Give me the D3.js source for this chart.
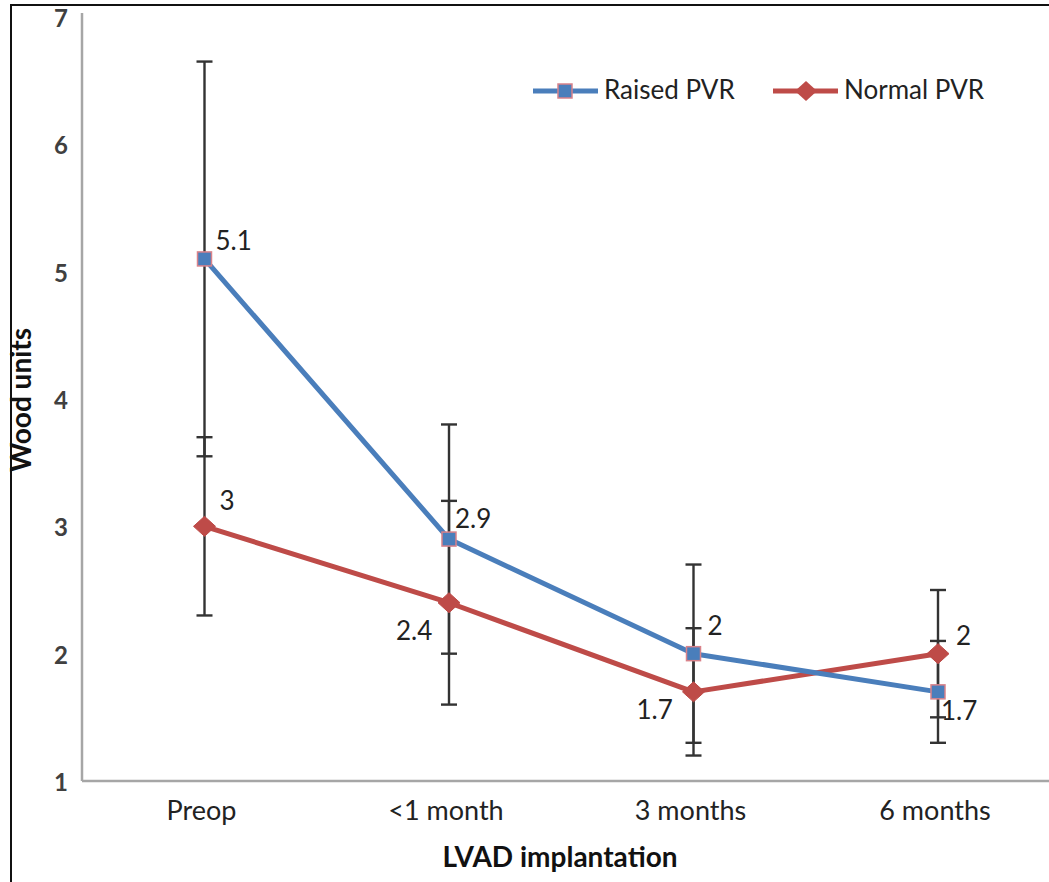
<!DOCTYPE html>
<html>
<head>
<meta charset="utf-8">
<script src="https://cdn.jsdelivr.net/npm/d3@7/dist/d3.min.js"></script>
<style>
  html, body { margin: 0; padding: 0; background: #fff; }
  svg { display: block; }
  text { font-family: Lato, "Open Sans", "Liberation Sans", sans-serif; }
</style>
</head>
<body>
<svg id="chart" width="1049" height="882"></svg>
<script>
// Time points after LVAD implantation
const categories = ["Preop", "<1 month", "3 months", "6 months"];
// Mean PVR (Wood units) per group
const raisedValues = [5.1, 2.9, 2.0, 1.7];
const normalValues = [3.0, 2.4, 1.7, 2.0];
// Error bar half-widths
const raisedErrors = [1.55, 0.9, 0.7, 0.4];
const normalErrors = [0.7, 0.8, 0.5, 0.5];
const yTicks = [1, 2, 3, 4, 5, 6, 7];

const svg = d3.select("#chart");
const W = 1049, H = 882;

const x = d3.scalePoint().domain(categories).range([204.5, 938]);
const y = d3.scaleLinear().domain([1, 7]).range([781, 17]);

// frame around the figure (top and left edges)
svg.append("path")
  .attr("d", `M11,${H} L11,5 L${W},5`)
  .attr("fill", "none").attr("stroke", "#111").attr("stroke-width", 2);

// axes
const axisColor = "#a6a6a6";
svg.append("line").attr("x1", 82).attr("x2", 82).attr("y1", y(7) - 4).attr("y2", y(1))
  .attr("stroke", axisColor).attr("stroke-width", 2.5);
svg.append("line").attr("x1", 82).attr("x2", 1060).attr("y1", y(1)).attr("y2", y(1))
  .attr("stroke", axisColor).attr("stroke-width", 2.5);

// y tick labels
svg.append("g").selectAll("text").data(yTicks).join("text")
  .attr("x", 68).attr("y", d => y(d) + 4)
  .attr("text-anchor", "end").attr("dominant-baseline", "middle")
  .attr("font-size", 24).attr("font-weight", 700).attr("fill", "#404040")
  .text(d => d);

// x tick labels
svg.append("g").selectAll("text").data(categories).join("text")
  .attr("x", d => x(d) - 3).attr("y", 813)
  .attr("text-anchor", "middle").attr("dominant-baseline", "middle")
  .attr("font-size", 27).attr("fill", "#222")
  .text(d => d);

// axis titles
svg.append("text")
  .attr("transform", `translate(24,400) rotate(-90)`)
  .attr("text-anchor", "middle").attr("dominant-baseline", "middle")
  .attr("font-size", 28).attr("font-weight", 700).attr("fill", "#111")
  .text("Wood units");
svg.append("text")
  .attr("x", 560).attr("y", 860)
  .attr("text-anchor", "middle").attr("dominant-baseline", "middle")
  .attr("font-size", 28).attr("font-weight", 700).attr("fill", "#111")
  .text("LVAD implantation");

const blue = "#4a7ebb", red = "#be4b48";

// error bars
function errorBars(values, errors) {
  const g = svg.append("g").attr("stroke", "#333").attr("stroke-width", 2.4);
  categories.forEach((c, i) => {
    const cx = x(c), lo = y(values[i] - errors[i]), hi = y(values[i] + errors[i]);
    g.append("line").attr("x1", cx).attr("x2", cx).attr("y1", hi).attr("y2", lo);
    g.append("line").attr("x1", cx - 8).attr("x2", cx + 8).attr("y1", hi).attr("y2", hi);
    g.append("line").attr("x1", cx - 8).attr("x2", cx + 8).attr("y1", lo).attr("y2", lo);
  });
}
errorBars(raisedValues, raisedErrors);
errorBars(normalValues, normalErrors);

const line = d3.line().x((d, i) => x(categories[i])).y(d => y(d));

// Normal PVR series
svg.append("path").datum(normalValues).attr("d", line)
  .attr("fill", "none").attr("stroke", red).attr("stroke-width", 5).attr("stroke-linejoin", "round");
svg.append("g").selectAll("path").data(normalValues).join("path")
  .attr("transform", (d, i) => `translate(${x(categories[i])},${y(d)})`)
  .attr("d", "M0,-10 L11,0 L0,10 L-11,0 Z")
  .attr("fill", red).attr("stroke", red).attr("stroke-width", 1);

// Raised PVR series
svg.append("path").datum(raisedValues).attr("d", line)
  .attr("fill", "none").attr("stroke", blue).attr("stroke-width", 5).attr("stroke-linejoin", "round");
svg.append("g").selectAll("rect").data(raisedValues).join("rect")
  .attr("x", (d, i) => x(categories[i]) - 7).attr("y", d => y(d) - 7)
  .attr("width", 14).attr("height", 14)
  .attr("fill", blue).attr("stroke", "#d9828a").attr("stroke-width", 1.5);

// value labels (left edge offset, vertical centre offset from the point)
const labelOffsets = {
  raised: [[11, -17], [6, -19], [14, -26], [3, 21]],
  normal: [[15, -24], [-53, 30], [-57, 20], [18, -16]]
};
function valueLabels(values, offsets) {
  svg.append("g").selectAll("text").data(values).join("text")
    .attr("x", (d, i) => x(categories[i]) + offsets[i][0])
    .attr("y", (d, i) => y(d) + offsets[i][1] + 1)
    .attr("dominant-baseline", "middle")
    .attr("font-size", 26).attr("fill", "#222")
    .text(d => d);
}
valueLabels(raisedValues, labelOffsets.raised);
valueLabels(normalValues, labelOffsets.normal);

// legend
const legend = svg.append("g");
const ly = 91;
legend.append("line").attr("x1", 533).attr("x2", 598).attr("y1", ly).attr("y2", ly)
  .attr("stroke", blue).attr("stroke-width", 5);
legend.append("rect").attr("x", 558).attr("y", ly - 7).attr("width", 14).attr("height", 14)
  .attr("fill", blue).attr("stroke", "#d9828a").attr("stroke-width", 1.5);
legend.append("text").attr("x", 604).attr("y", ly + 1).attr("dominant-baseline", "middle")
  .attr("font-size", 26).attr("fill", "#222").text("Raised PVR");
legend.append("line").attr("x1", 773).attr("x2", 838).attr("y1", ly).attr("y2", ly)
  .attr("stroke", red).attr("stroke-width", 5);
legend.append("path").attr("transform", `translate(806,${ly})`)
  .attr("d", "M0,-10 L11,0 L0,10 L-11,0 Z").attr("fill", red);
legend.append("text").attr("x", 844).attr("y", ly + 1).attr("dominant-baseline", "middle")
  .attr("font-size", 26).attr("fill", "#222").text("Normal PVR");
</script>
</body>
</html>
